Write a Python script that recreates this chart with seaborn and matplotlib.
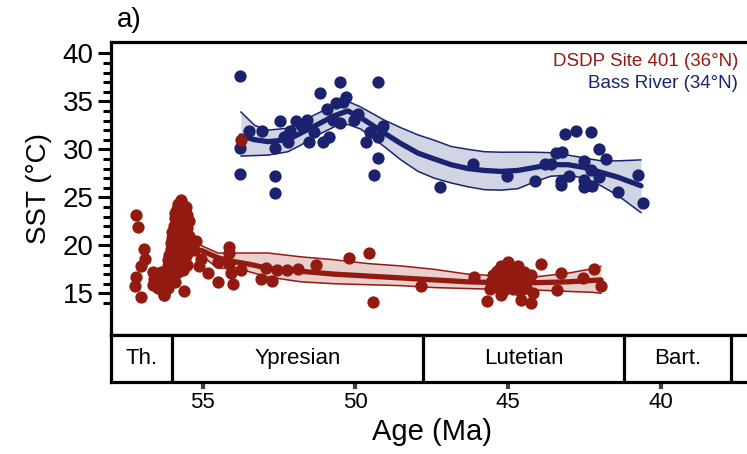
import matplotlib
matplotlib.use("Agg")
import matplotlib.pyplot as plt
import seaborn as sns
import pandas as pd
from matplotlib.ticker import FixedLocator

sns.set_theme(style="white")
plt.rcParams["font.family"] = ["Liberation Sans", "DejaVu Sans"]
plt.rcParams["text.color"] = "black"
plt.rcParams["axes.labelcolor"] = "black"
plt.rcParams["xtick.color"] = "black"
plt.rcParams["ytick.color"] = "black"

RED = "#931a10"
BLUE = "#1b2371"
RED_FILL = "#ead0cd"
BLUE_FILL = "#d1d4e3"

# ---------------- data: DSDP Site 401 (red) ----------------
site401_age = [
    57.18, 57.13, 56.93, 56.88, 57.02, 57.18, 57.22, 57.02,
    56.63, 56.60, 56.62, 56.55, 56.50, 56.45, 56.40, 56.35, 56.30, 56.27, 56.25, 56.20, 56.15, 56.10,
    56.15, 56.15, 56.10, 56.10, 56.05, 56.05, 56.05,
    56.00, 56.00, 56.00, 56.00, 56.00,
    55.95, 55.95, 55.95, 55.95, 55.95,
    55.90, 55.90, 55.90, 55.90, 55.90, 55.90, 55.90, 55.90,
    55.85, 55.85, 55.85, 55.85, 55.85, 55.85,
    55.80, 55.80, 55.80, 55.80, 55.80, 55.80, 55.80,
    55.75, 55.75, 55.75, 55.75, 55.75,
    55.70, 55.70, 55.70, 55.70, 55.70, 55.70, 55.70,
    55.65, 55.65, 55.65, 55.65, 55.65, 55.65, 55.65,
    55.60, 55.60, 55.60, 55.60, 55.60,
    55.55, 55.55, 55.55, 55.55, 55.55,
    55.50, 55.50, 55.50, 55.50, 55.50,
    55.45, 55.45,
    55.60, 56.26,
    55.22, 55.27, 55.06, 55.11, 54.84, 54.51, 54.51, 54.13, 54.13, 54.13, 54.07, 54.02,
    53.75, 53.75, 53.09, 52.93, 52.74, 52.55, 52.24, 51.87, 51.29, 50.20, 49.55, 49.44,
    47.85, 46.13,
    45.69, 45.51, 45.24, 45.00, 44.69, 44.47, 44.25, 45.24, 44.58, 44.25, 44.20, 44.80, 45.45, 45.13,
    43.93, 43.40, 43.27, 42.56, 42.18, 41.96,
    45.40, 45.30, 45.20, 45.15, 45.10, 45.05, 45.00, 44.95, 44.90, 44.85, 44.80, 44.75, 44.70,
    44.65, 44.60, 44.55, 44.50, 44.40, 44.35, 45.35, 45.55, 45.60,
]
site401_sst = [
    23.15, 21.95, 19.6, 18.6, 17.85, 16.7, 15.8, 14.65,
    17.2, 16.5, 15.9, 16.0, 17.0, 15.6, 16.4, 17.2, 15.2, 14.85, 16.1, 17.3, 15.6, 16.6,
    17.8, 18.5, 19.0, 17.5, 19.6, 20.2, 18.4,
    20.8, 21.4, 19.2, 18.0, 16.8,
    22.0, 21.0, 20.0, 19.0, 17.6,
    22.8, 23.4, 21.8, 20.6, 19.4, 18.2, 17.0, 16.2,
    23.8, 22.5, 21.2, 20.0, 18.8, 17.6,
    24.3, 23.2, 22.0, 20.8, 19.6, 18.4, 17.2,
    23.6, 22.4, 21.2, 20.2, 19.0,
    24.7, 23.9, 22.8, 21.6, 20.5, 19.3, 18.1,
    24.2, 23.0, 21.9, 20.9, 19.8, 18.6, 17.4,
    23.6, 22.2, 21.0, 19.9, 18.8,
    24.0, 22.7, 21.4, 20.2, 18.9,
    23.2, 21.8, 20.5, 19.2, 17.9,
    22.5, 21.0,
    15.2, 14.8,
    20.5, 19.5, 18.6, 17.8, 17.1, 16.2, 18.3, 19.85, 19.2, 18.1, 17.1, 16.0,
    17.4, 31.0, 16.5, 17.6, 16.3, 17.4, 17.4, 17.5, 17.9, 18.65, 19.2, 14.1,
    15.8, 16.7,
    14.2, 16.9, 17.85, 18.3, 17.85, 17.25, 16.9, 14.8, 14.3, 13.95, 15.0, 16.0, 15.9, 16.6,
    18.05, 15.3, 17.1, 16.6, 17.5, 15.75,
    16.3, 15.6, 16.9, 15.3, 17.4, 16.2, 15.7, 17.0, 16.5, 15.4, 17.6, 16.8, 15.8,
    16.3, 15.2, 17.0, 16.0, 15.6, 16.5, 17.3, 16.2, 15.5,
]

# smooth fit
site401_fit_age = [55.06, 54.50, 53.97, 53.42, 52.86, 51.78, 50.70, 49.59, 48.50, 47.42,
                   46.32, 45.24, 44.15, 43.04, 42.19, 41.96]
site401_fit_mid = [19.5, 18.7, 18.3, 18.0, 17.6, 17.3, 17.0, 16.8, 16.6, 16.4,
                   16.2, 16.1, 16.1, 16.2, 16.35, 16.4]
site401_fit_lo = [19.0, 17.6, 17.7, 17.2, 16.7, 16.2, 16.0, 15.9, 15.8, 15.6,
                  15.5, 15.4, 15.35, 15.2, 15.1, 15.0]
site401_fit_hi = [20.0, 19.2, 19.2, 19.2, 19.2, 18.8, 18.5, 18.1, 17.85, 17.5,
                  17.0, 16.8, 16.7, 17.1, 17.6, 17.8]

# ---------------- data: Bass River (blue) ----------------
bass_age = [
    53.77, 53.77, 53.77, 53.47, 53.07, 52.63, 52.63, 52.63, 52.47, 52.33, 52.20, 52.13,
    51.95, 51.78, 51.59, 51.51, 51.35, 51.16, 51.07, 50.93, 50.86, 50.74, 50.64, 50.52,
    50.51, 50.40, 50.31, 50.04, 49.93, 49.65, 49.51, 49.40, 49.27, 49.25, 49.25, 49.11,
    47.22, 46.15, 45.05, 44.11, 43.79, 43.60, 43.44, 43.25, 43.14, 42.78, 42.29, 43.27,
    43.27, 43.02, 42.53, 42.53, 42.53, 42.27, 42.29, 42.04, 42.02, 41.79, 41.42, 40.74, 40.60,
]
bass_sst = [
    37.6, 30.1, 27.4, 31.9, 31.9, 30.1, 27.25, 25.45, 33.0, 31.3, 30.8, 31.9,
    33.0, 32.5, 33.1, 30.8, 31.8, 35.9, 30.8, 34.2, 31.25, 33.05, 34.8, 37.05,
    32.7, 34.9, 35.4, 33.05, 33.65, 30.8, 31.8, 27.3, 37.05, 29.1, 31.25, 32.45,
    26.1, 28.5, 27.2, 26.7, 28.45, 28.45, 29.6, 29.7, 31.6, 31.9, 31.8, 26.7,
    26.3, 27.25, 28.8, 26.8, 26.1, 26.2, 27.85, 30.0, 27.1, 29.0, 25.6, 27.3, 24.45,
]

bass_fit_age = [53.75, 53.30, 52.86, 52.21, 51.78, 51.23, 50.69, 50.25, 49.82, 49.06,
                48.51, 47.95, 47.42, 46.87, 46.32, 45.78, 45.24, 44.68, 44.15, 43.60,
                43.04, 42.50, 41.96, 41.41, 40.65]
bass_fit_mid = [31.4, 31.0, 30.8, 31.0, 31.7, 32.6, 33.5, 34.0, 33.3, 31.7,
                30.6, 29.6, 29.0, 28.4, 28.0, 27.8, 27.7, 27.8, 28.1, 28.4,
                28.4, 28.1, 27.6, 27.1, 26.2]
bass_fit_lo = [29.3, 29.35, 29.4, 29.75, 30.45, 31.5, 32.35, 32.6, 32.1, 30.3,
               28.9, 27.7, 27.0, 26.5, 26.1, 25.8, 25.75, 25.9, 26.6, 27.2,
               27.3, 27.0, 26.2, 25.2, 23.4]
bass_fit_hi = [33.9, 32.5, 32.0, 32.2, 32.9, 33.75, 34.6, 35.0, 34.4, 33.05,
               32.25, 31.5, 30.95, 30.3, 30.0, 29.75, 29.7, 29.7, 29.7, 29.65,
               29.4, 29.1, 28.8, 28.8, 28.9]

# ---------------- stages ----------------
stage_names = ["Th.", "Ypresian", "Lutetian", "Bart.", ""]
stage_start = [58.0, 56.0, 47.8, 41.2, 37.71]
stage_end = [56.0, 47.8, 41.2, 37.71, 33.9]

x_ticks = [55, 50, 45, 40]
y_ticks = [15, 20, 25, 30, 35, 40]
y_minor = [14, 16, 17, 18, 19, 21, 22, 23, 24, 26, 27, 28, 29, 31, 32, 33, 34, 36, 37, 38, 39]

# ---------------- figure ----------------
W, H = 747, 454
fig = plt.figure(figsize=(W / 100, H / 100), dpi=100)

def fx(px):
    return px / W

def fy(py):
    return 1 - py / H

xlim = (58.0, 34.0)
ax_left = 111
ax_w = (xlim[0] - xlim[1]) * 30.55
ax = fig.add_axes([fx(ax_left), fy(335), fx(ax_w), fy(41.7) - fy(335)])
sax = fig.add_axes([fx(ax_left), fy(382), fx(ax_w), fy(335) - fy(382)], sharex=ax)

df_red = pd.DataFrame({"age": site401_age, "sst": site401_sst})
df_blue = pd.DataFrame({"age": bass_age, "sst": bass_sst})

# Bass River fit
ax.fill_between(bass_fit_age, bass_fit_lo, bass_fit_hi, color=BLUE_FILL, lw=0, zorder=1)
ax.plot(bass_fit_age, bass_fit_lo, color=BLUE, lw=1.1, zorder=2)
ax.plot(bass_fit_age, bass_fit_hi, color=BLUE, lw=1.1, zorder=2)
sns.lineplot(x=bass_fit_age, y=bass_fit_mid, color=BLUE, lw=3.8, ax=ax, zorder=3,
             sort=False, estimator=None)
sns.scatterplot(data=df_blue, x="age", y="sst", color=BLUE, s=78, linewidth=0,
                ax=ax, zorder=4)

# Site 401 fit
ax.fill_between(site401_fit_age, site401_fit_lo, site401_fit_hi, color=RED_FILL, lw=0, zorder=1)
ax.plot(site401_fit_age, site401_fit_lo, color=RED, lw=1.1, zorder=2)
ax.plot(site401_fit_age, site401_fit_hi, color=RED, lw=1.1, zorder=2)
sns.lineplot(x=site401_fit_age, y=site401_fit_mid, color=RED, lw=3.8, ax=ax, zorder=3,
             sort=False, estimator=None)
sns.scatterplot(data=df_red, x="age", y="sst", color=RED, s=78, linewidth=0,
                ax=ax, zorder=5)

ax.set_xlim(*xlim)
ax.set_ylim(10.66, 41.21)
ax.set_xlabel("")
ax.set_ylabel("SST (°C)", fontsize=20, labelpad=8)
ax.yaxis.set_major_locator(FixedLocator(y_ticks))
ax.yaxis.set_minor_locator(FixedLocator(y_minor))
ax.tick_params(axis="y", which="major", direction="out", length=9.5, width=2.2,
               labelsize=20, color="black", labelcolor="black", left=True, pad=3)
ax.tick_params(axis="y", which="minor", direction="out", length=6, width=2.2,
               color="black", left=True)
ax.tick_params(axis="x", which="both", bottom=False, labelbottom=False)
for s in ["left", "top", "bottom", "right"]:
    ax.spines[s].set_linewidth(2.3)
    ax.spines[s].set_color("black")

# stage bar
for name, a0, a1 in zip(stage_names, stage_start, stage_end):
    sax.axvline(a1, color="black", lw=2.3)
    if name:
        sax.text((a0 + a1) / 2, 0.5, name, ha="center", va="center",
                 fontsize=16, color="black")
sax.set_ylim(0, 1)
sax.set_yticks([])
sax.xaxis.set_major_locator(FixedLocator(x_ticks))
sax.tick_params(axis="x", which="major", direction="out", length=5, width=3,
                color="#404040", labelcolor="black", labelsize=16, pad=2, bottom=True)
for s in ["left", "top", "bottom", "right"]:
    sax.spines[s].set_linewidth(2.3)
    sax.spines[s].set_color("black")

fig.text(fx(432), fy(432), "Age (Ma)", ha="center", va="center", fontsize=21, color="black")
fig.text(fx(117), fy(20), "a)", ha="left", va="center", fontsize=20, color="black")
fig.text(fx(738), fy(62), "DSDP Site 401 (36°N)", ha="right", va="center",
         fontsize=13.5, color=RED)
fig.text(fx(738), fy(83.5), "Bass River (34°N)", ha="right", va="center",
         fontsize=13.5, color=BLUE)

fig.savefig("out.png", dpi=100)
